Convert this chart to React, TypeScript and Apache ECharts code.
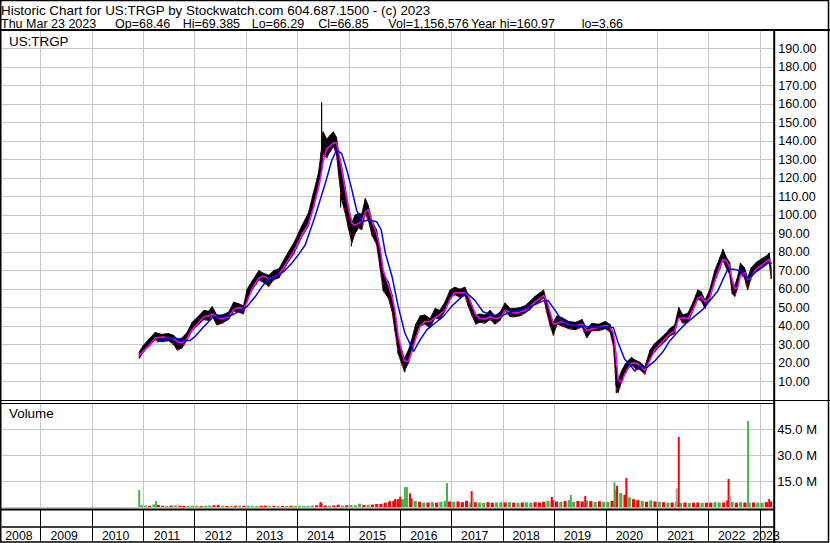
import React, { useEffect, useRef } from 'react';
import * as echarts from 'echarts';

const FONT = '"Liberation Sans", Arial, Helvetica, sans-serif';

// ---- time axis (decimal years) ----
const X_MIN = 2008.25;
const X_MAX = 2023.26;
const yearBoundaries = [2009, 2010, 2011, 2012, 2013, 2014, 2015, 2016, 2017, 2018, 2019, 2020, 2021, 2022, 2023];
const yearLabelAt = [2008.58, 2009.46, 2010.46, 2011.46, 2012.46, 2013.46, 2014.45, 2015.46, 2016.46, 2017.45, 2018.45, 2019.45, 2020.46, 2021.46, 2022.45, 2023.12];

// ---- price (daily range band) ----
const priceDates = [
  2010.92, 2011.0, 2011.11, 2011.23, 2011.36, 2011.49, 2011.59, 2011.66, 2011.75, 2011.85, 2011.95,
  2012.08, 2012.18, 2012.27, 2012.34, 2012.43, 2012.53, 2012.66, 2012.76, 2012.86, 2012.95,
  2013.02, 2013.12, 2013.25, 2013.34, 2013.44, 2013.54, 2013.64, 2013.73, 2013.83, 2013.93,
  2014.03, 2014.08, 2014.21, 2014.31, 2014.41, 2014.46, 2014.5, 2014.57, 2014.63, 2014.7, 2014.76, 2014.8, 2014.86, 2014.93, 2014.99,
  2015.06, 2015.12, 2015.19, 2015.25, 2015.32, 2015.38, 2015.45, 2015.54, 2015.61, 2015.67, 2015.77, 2015.84, 2015.9, 2015.96,
  2016.03, 2016.08, 2016.16, 2016.22, 2016.3, 2016.39, 2016.48, 2016.58, 2016.68, 2016.77, 2016.87, 2016.97,
  2017.06, 2017.16, 2017.26, 2017.32, 2017.39, 2017.47, 2017.55, 2017.65, 2017.75, 2017.84, 2017.94,
  2018.04, 2018.14, 2018.23, 2018.33, 2018.43, 2018.53, 2018.62, 2018.72, 2018.79, 2018.85, 2018.92, 2018.98,
  2019.05, 2019.15, 2019.28, 2019.41, 2019.54, 2019.63, 2019.73, 2019.86, 2019.99,
  2020.08, 2020.15, 2020.2, 2020.24, 2020.31, 2020.37, 2020.44, 2020.5, 2020.58, 2020.66, 2020.76, 2020.86, 2020.95,
  2021.05, 2021.15, 2021.24, 2021.34, 2021.42, 2021.5, 2021.6, 2021.7, 2021.79, 2021.86, 2021.93,
  2022.02, 2022.12, 2022.22, 2022.28, 2022.35, 2022.41, 2022.46, 2022.51, 2022.56, 2022.62, 2022.7, 2022.76, 2022.83, 2022.93,
  2023.04, 2023.13, 2023.18, 2023.22,
];
const priceLo = [
  22.5, 26, 29, 32.5, 31.5, 32, 30, 27, 28, 32.5, 37.5,
  41, 43.5, 43, 45.5, 40.5, 41.5, 43.5, 48, 47.5, 46.5,
  54, 59.5, 65, 63.5, 61.5, 65, 66, 70.5, 75, 79,
  85, 88, 94, 104, 115, 122, 133, 131, 134, 137, 133, 122, 108, 101, 93,
  85, 90, 93, 92, 101, 97, 89, 84, 71, 59, 55, 48, 37, 25,
  19.5, 15.5, 20, 25.5, 34.5, 40, 41, 39, 44.5, 43.5, 48, 54.5,
  57, 55.5, 56.5, 51, 46, 41, 42, 41.5, 43.5, 41, 43,
  48, 45, 45, 45.5, 47, 49, 52, 53.5, 55.5, 47.5, 40, 35,
  41, 40, 38.5, 38, 39.5, 33.5, 37.5, 37.5, 38.5,
  37, 29, 8, 4, 10, 14, 17, 19, 17, 16.5, 14, 22.5, 26,
  29, 31.5, 34.5, 36, 45, 41.5, 42, 48.5, 54.5, 53.5, 49.5,
  54.5, 64, 71, 75.5, 71, 68, 57.5, 56, 60, 68.5, 66, 59.5, 66, 70,
  72, 73.5, 74.5, 65.5,
];
const priceHi = [
  26, 29.5, 33, 36.5, 35.5, 36, 35, 33, 33.5, 36.5, 42,
  45.5, 48.5, 48, 50.5, 46, 46, 47.5, 53, 52, 51,
  60, 64.5, 70, 68.5, 67.5, 70, 71, 75.5, 80.5, 85,
  91, 94, 101, 112, 123, 134, 145, 141, 143, 145, 142, 134, 126, 115, 105,
  96, 100, 101, 100.5, 109, 105, 97, 92, 81, 68, 64, 57, 46, 33,
  27, 22.5, 27, 32.5, 41, 45.5, 46, 44, 49.5, 48.5, 53, 59.5,
  61, 60, 61, 57, 51.5, 46, 46.5, 46, 48.5, 45.5, 47.5,
  52.5, 49.5, 49.5, 50, 51, 53.5, 56, 58, 59.5, 53, 46.5, 42,
  45.5, 44.5, 42.5, 42, 43.5, 38.5, 41.5, 41, 42.5,
  41, 35, 18, 11, 16, 19, 21.5, 23, 21.5, 20.5, 18, 27, 30.5,
  33, 35.5, 38.5, 40.5, 50, 46, 47, 53, 59.5, 58.5, 54,
  59.5, 70, 77, 81.5, 77, 74.5, 64, 62, 66, 74, 71.5, 66, 71.5, 74.5,
  76.5, 78, 79.5, 71,
];
// short moving average (magenta)
const maFast = [
  24, 26.5, 29.5, 33.5, 34, 33.8, 33, 31.5, 30.8, 33, 38,
  42, 45, 45.5, 46.5, 45, 43.8, 45, 49, 50, 49.2,
  53, 60.5, 66, 67, 65.5, 66.5, 68, 71.5, 76, 80.5,
  86, 89, 95, 104, 115, 122, 129, 136, 137, 139, 139, 134, 125, 113.5, 104,
  95.5, 94.5, 95.5, 96.5, 101.5, 103, 96.5, 90, 82, 70, 62, 56, 48, 35,
  26, 21, 21, 26, 33, 40, 42.5, 42.5, 44.5, 46.2, 48.5, 54.5,
  58, 58, 58, 56.5, 51.5, 46, 44, 43.8, 45, 44, 44.5,
  48.5, 47.5, 47, 47.5, 48.5, 50.5, 53, 55, 56.5, 54, 47, 41,
  41.5, 42.5, 40.8, 40.2, 41, 37.5, 38.5, 39.3, 40.3,
  39.5, 36, 25, 11, 9.5, 14, 17.5, 19.8, 20, 18.8, 16, 21.5, 27,
  30, 33, 35.5, 37.5, 44, 44.5, 44, 49, 55, 56, 53,
  55, 64.5, 72, 76, 75, 72, 65, 60, 60.5, 67, 69, 65, 66.5, 71,
  73, 75, 76, 73.5,
];

// long moving average (blue)
const maSlowDates = [
  2011.27, 2011.43, 2011.62, 2011.75, 2011.91, 2012.01, 2012.18, 2012.37, 2012.53, 2012.73, 2012.92,
  2013.02, 2013.18, 2013.31, 2013.44, 2013.57, 2013.73, 2013.89, 2014.03, 2014.15, 2014.34, 2014.54,
  2014.67, 2014.76, 2014.86, 2014.96, 2015.06, 2015.15, 2015.25, 2015.38, 2015.54, 2015.63, 2015.71,
  2015.84, 2015.96, 2016.09, 2016.26, 2016.39, 2016.52, 2016.68, 2016.84, 2017.0, 2017.17, 2017.29,
  2017.45, 2017.61, 2017.78, 2017.97, 2018.17, 2018.36, 2018.56, 2018.79, 2018.88, 2019.01, 2019.14,
  2019.27, 2019.47, 2019.66, 2019.86, 2020.06, 2020.15, 2020.24, 2020.37, 2020.47, 2020.56, 2020.66,
  2020.79, 2020.95, 2021.12, 2021.24, 2021.41, 2021.57, 2021.73, 2021.89, 2022.02, 2022.18, 2022.28,
  2022.38, 2022.51, 2022.64, 2022.77, 2022.9, 2023.04, 2023.17, 2023.23,
];
const maSlow = [
  31.3, 33.5, 33.5, 32.2, 32.2, 34.4, 39.7, 45.1, 44.6, 46, 48.7,
  50.5, 55.9, 61.3, 65.8, 66.7, 69.4, 73.9, 79, 83.8, 99.1, 117,
  129.7, 135, 133.3, 124.3, 113.5, 102.7, 96.4, 97.3, 96.4, 92, 79.4,
  66.8, 50.6, 36.2, 26.3, 32.6, 38, 41.6, 45.2, 50.6, 55.1, 58,
  54, 47.7, 45.9, 45.6, 47.7, 48.6, 50.8, 53.7, 53.7, 48.6, 43.2,
  41.1, 40, 39.6, 39.3, 39.6, 39, 30.9, 21.9, 19.2, 15.6, 18.3,
  17.4, 21, 26.4, 31.8, 37.2, 41.7, 45.3, 49, 53.5, 58.9, 65.2,
  71, 70.6, 69.7, 65.6, 68.8, 71.5, 74.2, 73.7,
];

// single-day extremes
const wickDates = [2014.47, 2014.84, 2015.05, 2016.09, 2020.205];
const wickLo = [124, 104, 83, 15, 3.66];
const wickHi = [160.97, 122, 92, 21, 14];

// ---- volume (millions) ----
// monthly background volume, starting Dec 2010
const volStartYear = 2010;
const volStartMonth = 11;
const volumeMonthly = [
  1.0,
  0.8, 0.7, 1.5, 1.2, 0.7, 0.6, 0.8, 0.9, 0.7, 0.6, 0.6, 0.7,
  0.7, 0.6, 0.7, 0.8, 1.0, 0.7, 0.6, 0.6, 0.6, 0.7, 0.8, 0.6,
  0.7, 0.6, 0.6, 0.7, 0.8, 0.6, 0.6, 0.5, 0.6, 0.6, 0.7, 0.6,
  0.7, 0.6, 0.6, 0.8, 1.0, 2.0, 0.9, 0.8, 0.9, 1.3, 0.8, 1.0,
  1.2, 1.0, 1.9, 1.2, 1.3, 1.4, 1.7, 1.8, 2.5, 3.0, 3.5, 4.5,
  4.5, 5.0, 5.0, 3.5, 3.0, 2.5, 2.6, 2.8, 2.5, 3.0, 3.5, 3.2,
  3.0, 3.2, 2.8, 3.5, 2.5, 2.8, 2.6, 2.4, 2.8, 2.5, 2.6, 2.7,
  2.6, 2.8, 2.5, 2.4, 2.6, 2.7, 2.5, 2.8, 2.6, 3.0, 3.5, 4.0,
  3.2, 3.0, 3.4, 4.0, 3.0, 3.5, 3.2, 3.8, 3.4, 2.9, 3.3, 3.0,
  3.0, 3.5, 10, 8, 7, 5.5, 4.5, 4.0, 3.5, 3.0, 3.8, 3.2,
  3.0, 2.8, 2.5, 2.6, 3.0, 2.4, 2.6, 2.3, 2.5, 2.6, 2.4, 2.5,
  2.5, 2.8, 2.6, 2.6, 3.8, 3.0, 2.5, 2.8, 2.6, 2.4, 2.6, 2.5,
  2.5, 2.8, 3.2,
];
const volumeMonthlyColor =
  'g' +
  'grgrrgrgrrgg' + 'grggrrgrgrgr' + 'gggrrgrgrgrg' + 'ggggrrrgrrgr' + 'gggrgrrrrrrr' +
  'ggrgrgrgrggr' + 'grrrgrggrrgg' + 'rgrgrggrrrgr' + 'rgrggrrgrgrg' + 'grggrgrrgrgr' +
  'grgrggrgrrgr' + 'rggrrgrgrgrg' + 'grr';
// single-day volume spikes
const spikeDates = [2010.92, 2011.25, 2012.46, 2014.45, 2015.8, 2015.9, 2016.0, 2016.09, 2016.13, 2016.19, 2016.91, 2017.39, 2017.42, 2018.95, 2019.32, 2019.6, 2020.17, 2020.22, 2020.4, 2021.38, 2021.42, 2022.39, 2022.42, 2022.77, 2023.18];
const spikeVols = [9.8, 3.5, 1.3, 2.9, 3.5, 4.6, 6.0, 11.5, 11.5, 7.9, 13.8, 9.2, 5.0, 5.8, 6.9, 6.3, 14.2, 12.3, 16.7, 10.8, 40.4, 16.2, 6.3, 49.6, 4.6];
const spikeColor = 'ggrrrrrggrgrsrgrgrrsrrsgr';

const volTicks = [0, 15, 30, 45, 60];

// header fields (second title line)
const headerFields = ['Thu Mar 23 2023', 'Op=68.46', 'Hi=69.385', 'Lo=66.29', 'Cl=66.85', 'Vol=1,156,576', 'Year hi=160.97', 'lo=3.66'];
const headerFieldX = [1, 115, 182.7, 251.7, 318.3, 388.3, 471, 581.7];

const COLORS: Record<string, string> = { g: '#46b346', r: '#ff0000', s: '#a8a8a8' };
const GRID_GRAY = '#c8c8c8';

function buildOption() {
  const band = priceDates.map((d, i) => [d, priceLo[i], priceHi[i]]);
  const wicks = wickDates.map((d, i) => [d, wickLo[i], wickHi[i]]);
  const fast = priceDates.map((d, i) => [d, maFast[i]]);
  const lowEdge = priceDates.map((d, i) => [d, priceLo[i]]);
  const slow = maSlowDates.map((d, i) => [d, maSlow[i]]);
  const monthly = volumeMonthly.map((v, i) => [volStartYear + (volStartMonth + i + 0.5) / 12, v]);
  const spikes = spikeDates.map((d, i) => [d, spikeVols[i]]);

  const L = 2;
  const W = 771.3;

  const xAxisBase = (gridIndex: number, dark: boolean) => ({
    type: 'value',
    gridIndex,
    min: X_MIN,
    max: X_MAX,
    axisLine: { show: false },
    axisTick: { show: false, customValues: yearBoundaries },
    axisLabel: { show: false },
    splitLine: { show: true, lineStyle: { color: dark ? '#000' : GRID_GRAY, width: 1 } },
  });

  const volBar = (data: number[][], width: number, colorStr: string) => ({
    type: 'custom',
    xAxisIndex: 1,
    yAxisIndex: 1,
    data,
    silent: true,
    clip: true,
    encode: { x: 0, y: 1 },
    renderItem: (params: any, api: any) => {
      const x = api.value(0);
      const v = api.value(1);
      const top = api.coord([x, v]);
      const base = api.coord([x, 0]);
      return {
        type: 'rect',
        shape: { x: top[0] - width / 2, y: top[1], width, height: base[1] - top[1] },
        style: { fill: COLORS[colorStr[params.dataIndex]] || COLORS.g },
      };
    },
  });

  const textStyle = (text: string, size: number) => ({
    text,
    fill: '#000',
    fontFamily: FONT,
    fontSize: size,
    lineHeight: 12,
    verticalAlign: 'middle',
  });

  return {
    animation: false,
    backgroundColor: '#fff',
    textStyle: { fontFamily: FONT },
    grid: [
      { left: L, width: W, top: 30, height: 370 },
      { left: L, width: W, top: 403, height: 104 },
      { left: L, width: W, top: 510, height: 17 },
    ],
    xAxis: [
      xAxisBase(0, false),
      xAxisBase(1, false),
      {
        ...xAxisBase(2, true),
        axisLine: { show: true, onZero: false, lineStyle: { color: '#000', width: 1.5 } },
        axisTick: { show: true, customValues: yearBoundaries, length: 15, inside: false, lineStyle: { color: '#000', width: 1 } },
        axisLabel: {
          show: true,
          customValues: yearLabelAt,
          margin: 3,
          color: '#000',
          fontFamily: FONT,
          fontSize: 12.3,
          formatter: (v: number) => String(Math.floor(v)),
        },
      },
    ],
    yAxis: [
      {
        type: 'value',
        gridIndex: 0,
        position: 'right',
        min: 0,
        max: 200,
        interval: 10,
        axisLine: { show: false },
        axisTick: { show: false },
        axisLabel: {
          margin: 5,
          color: '#000',
          fontFamily: FONT,
          fontSize: 12.5,
          formatter: (v: number) => (v <= 0 || v >= 200 ? '' : v.toFixed(2)),
        },
        splitLine: { lineStyle: { color: GRID_GRAY, width: 1 } },
      },
      {
        type: 'value',
        gridIndex: 1,
        position: 'right',
        min: volTicks[0],
        max: volTicks[volTicks.length - 1],
        interval: 15,
        axisLine: { show: false },
        axisTick: { show: false },
        axisLabel: {
          margin: 4,
          color: '#000',
          fontFamily: FONT,
          fontSize: 13,
          formatter: (v: number) => (v <= 0 || v >= 60 ? '' : v.toFixed(1) + ' M'),
        },
        splitLine: { lineStyle: { color: GRID_GRAY, width: 1 } },
      },
      {
        type: 'value',
        gridIndex: 2,
        min: 0,
        max: 1,
        show: false,
        splitLine: { show: false },
      },
    ],
    series: [
      {
        type: 'custom',
        name: 'range',
        xAxisIndex: 0,
        yAxisIndex: 0,
        data: band,
        silent: true,
        clip: true,
        encode: { x: 0, y: [1, 2] },
        renderItem: (params: any, api: any) => {
          const i = params.dataIndex;
          if (i >= band.length - 1) return { type: 'group', children: [] };
          const a = band[i];
          const b = band[i + 1];
          const pts = [
            api.coord([a[0], a[2]]),
            api.coord([b[0], b[2]]),
            api.coord([b[0], b[1]]),
            api.coord([a[0], a[1]]),
          ];
          return {
            type: 'polygon',
            shape: { points: pts },
            style: { fill: '#000', stroke: '#000', lineWidth: 0.8 },
          };
        },
      },
      {
        type: 'custom',
        name: 'extremes',
        xAxisIndex: 0,
        yAxisIndex: 0,
        data: wicks,
        silent: true,
        encode: { x: 0, y: [1, 2] },
        renderItem: (params: any, api: any) => {
          const lo = api.coord([api.value(0), api.value(1)]);
          const hi = api.coord([api.value(0), api.value(2)]);
          return {
            type: 'line',
            shape: { x1: lo[0], y1: lo[1], x2: hi[0], y2: hi[1] },
            style: { stroke: '#000', lineWidth: 1.2 },
          };
        },
      },
      {
        type: 'line',
        name: 'down closes',
        xAxisIndex: 0,
        yAxisIndex: 0,
        data: lowEdge,
        showSymbol: false,
        silent: true,
        lineStyle: { color: '#ff0000', width: 1.6, type: [1.5, 7] },
      },
      {
        type: 'line',
        name: 'fast',
        xAxisIndex: 0,
        yAxisIndex: 0,
        data: fast,
        showSymbol: false,
        silent: true,
        lineStyle: { color: '#ff00ff', width: 1.5 },
      },
      {
        type: 'line',
        name: 'slow',
        xAxisIndex: 0,
        yAxisIndex: 0,
        data: slow,
        showSymbol: false,
        silent: true,
        lineStyle: { color: '#0000ff', width: 1.5 },
      },
      volBar(monthly, 3.2, volumeMonthlyColor),
      volBar(spikes, 2, spikeColor),
    ],
    graphic: [
      {
        type: 'text',
        x: 1,
        y: 10.3,
        style: textStyle('Historic Chart for US:TRGP by Stockwatch.com 604.687.1500 - (c) 2023', 13.4),
      },
      ...headerFields.map((t, i) => ({
        type: 'text',
        x: headerFieldX[i],
        y: 23.8,
        style: textStyle(t, 12.5),
      })),
      { type: 'text', x: 9, y: 41.3, z: 50, style: textStyle('US:TRGP', 13.4) },
      { type: 'text', x: 9, y: 413, z: 50, style: textStyle('Volume', 13.4) },
      // frame
      { type: 'rect', z: 100, shape: { x: 0.75, y: 0.5, width: 827.75, height: 541.5 }, style: { fill: 'none', stroke: '#000', lineWidth: 1.5 } },
      { type: 'line', z: 100, shape: { x1: 0, y1: 30, x2: 830, y2: 30 }, style: { stroke: '#000', lineWidth: 2 } },
      { type: 'line', z: 100, shape: { x1: 774.2, y1: 30, x2: 774.2, y2: 543 }, style: { stroke: '#000', lineWidth: 2 } },
      { type: 'line', z: 100, shape: { x1: 0, y1: 400.5, x2: 830, y2: 400.5 }, style: { stroke: '#000', lineWidth: 1 } },
      { type: 'line', z: 100, shape: { x1: 0, y1: 403.5, x2: 774, y2: 403.5 }, style: { stroke: '#000', lineWidth: 1 } },
      { type: 'line', z: 100, shape: { x1: 0, y1: 509.5, x2: 774, y2: 509.5 }, style: { stroke: '#000', lineWidth: 2 } },
    ],
  };
}

export default function App() {
  const ref = useRef<HTMLDivElement>(null);
  useEffect(() => {
    if (!ref.current) return;
    const chart = echarts.init(ref.current, undefined, { renderer: 'svg', width: 830, height: 543 });
    chart.setOption(buildOption() as any);
    return () => chart.dispose();
  }, []);
  return (
    <div
      ref={ref}
      style={{ position: 'fixed', left: 0, top: 0, width: 830, height: 543, background: '#fff' }}
    />
  );
}
